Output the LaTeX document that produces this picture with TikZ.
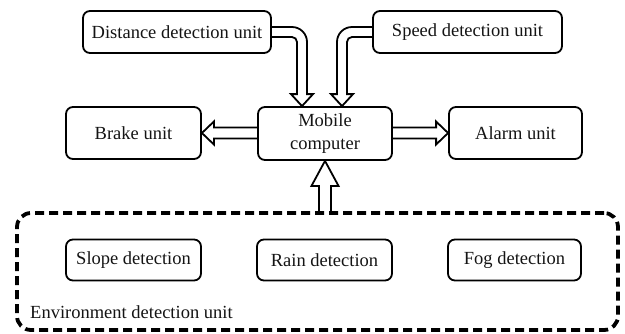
\documentclass[tikz,border=0pt]{standalone}
\usepackage{fontspec}
\setmainfont{Liberation Serif}
\usetikzlibrary{calc}
\begin{document}
\begin{tikzpicture}[x=1pt,y=-1pt,
  unitbox/.style={draw, line width=1.8pt, rounded corners=7pt, inner sep=0pt,
    font=\fontsize{18.5}{23}\selectfont, text=black!92, align=center},
  hollow/.style={draw, line width=1.8pt, line join=miter},
  envbox/.style={draw, line width=3.8pt, dash pattern=on 9pt off 5pt, rounded corners=14pt,
    inner sep=0pt, minimum width=601pt, minimum height=117pt}]
\useasboundingbox (0,0) rectangle (625,333);
% dashed environment frame
\node[envbox] (env) at (317.5,271.5) {};
\node[anchor=base west, inner sep=0pt, font=\fontsize{18.5}{23}\selectfont, text=black!92] (envlabel) at (30,318) {Environment detection unit};
% boxes
\node[unitbox, minimum width=188pt, minimum height=42pt] (dist) at (177,32) {Distance detection unit};
\node[unitbox, minimum width=189pt, minimum height=42pt] (speed) at (467.5,32) {Speed detection unit};
\node[unitbox, minimum width=135pt, minimum height=52pt] (brake) at (133.5,133) {Brake unit};
\node[unitbox, minimum width=134pt, minimum height=53pt] (mob) at (325,133.5) {Mobile\\computer};
\node[unitbox, minimum width=133pt, minimum height=52pt] (alarm) at (515.5,133) {Alarm unit};
\node[unitbox, minimum width=135pt, minimum height=41pt] (slope) at (133.5,260) {Slope detection};
\node[unitbox, minimum width=135pt, minimum height=41pt] (rain) at (324.5,260) {Rain detection};
\node[unitbox, minimum width=133pt, minimum height=41pt] (fog) at (514.5,260) {Fog detection};
% tips
\coordinate (dt) at ($(mob.north)+(-23,0)$);
\coordinate (st) at ($(mob.north)+(17,0)$);
% distance arrow
\draw[hollow] let \p1=(dist.east), \p2=(dt) in
  (\x1,\y1+5pt) -- (\x2-10pt,\y1+5pt)
  .. controls (\x2-1.72pt,\y1+5pt) and (\x2+5pt,\y1-1.72pt) .. (\x2+5pt,\y1-10pt)
  -- (\x2+5pt,\y2+12pt) -- (\x2+11pt,\y2+12pt) -- (\x2,\y2) -- (\x2-11pt,\y2+12pt)
  -- (\x2-5pt,\y2+12pt) -- (\x2-5pt,\y1-10pt)
  .. controls (\x2-5pt,\y1-7.24pt) and (\x2-7.24pt,\y1-5pt) .. (\x2-10pt,\y1-5pt)
  -- (\x1,\y1-5pt);
% speed arrow
\draw[hollow] let \p1=(speed.west), \p2=(st) in
  (\x1,\y1+5pt) -- (\x2+10pt,\y1+5pt)
  .. controls (\x2+1.72pt,\y1+5pt) and (\x2-5pt,\y1-1.72pt) .. (\x2-5pt,\y1-10pt)
  -- (\x2-5pt,\y2+12pt) -- (\x2-11pt,\y2+12pt) -- (\x2,\y2) -- (\x2+11pt,\y2+12pt)
  -- (\x2+5pt,\y2+12pt) -- (\x2+5pt,\y1-10pt)
  .. controls (\x2+5pt,\y1-7.24pt) and (\x2+7.24pt,\y1-5pt) .. (\x2+10pt,\y1-5pt)
  -- (\x1,\y1-5pt);
% brake arrow
\draw[hollow] let \p1=(mob.west), \p2=(brake.east) in
  (\x1,\y2+5.5pt) -- (\x2+12pt,\y2+5.5pt) -- (\x2+12pt,\y2+11.5pt) -- (\x2,\y2)
  -- (\x2+12pt,\y2-11.5pt) -- (\x2+12pt,\y2-5.5pt) -- (\x1,\y2-5.5pt);
% alarm arrow
\draw[hollow] let \p1=(mob.east), \p2=(alarm.west) in
  (\x1,\y2+5.5pt) -- (\x2-12pt,\y2+5.5pt) -- (\x2-12pt,\y2+11.5pt) -- (\x2,\y2)
  -- (\x2-12pt,\y2-11.5pt) -- (\x2-12pt,\y2-5.5pt) -- (\x1,\y2-5.5pt);
% environment arrow
\draw[hollow] let \p1=(env.north -| mob.south), \p2=(mob.south) in
  (\x1-6pt,\y1) -- (\x1-6pt,\y2-25pt) -- (\x1-13.5pt,\y2-25pt) -- (\x2,\y2)
  -- (\x1+13.5pt,\y2-25pt) -- (\x1+6pt,\y2-25pt) -- (\x1+6pt,\y1);
\end{tikzpicture}
\end{document}
